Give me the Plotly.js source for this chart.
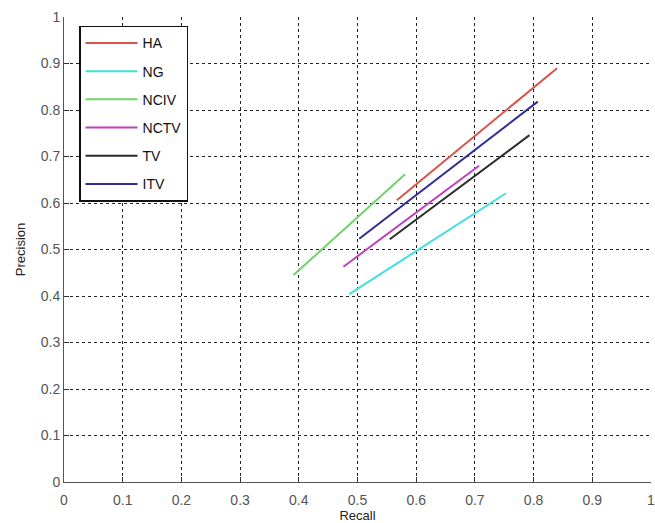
<!DOCTYPE html>
<html>
<head>
<meta charset="utf-8">
<script src="https://cdn.plot.ly/plotly-3.0.1.min.js"></script>
<style>html,body{margin:0;padding:0;background:#fff;}#chart{width:655px;height:523px;}</style>
</head>
<body>
<div id="chart"></div>
<script>
const seriesNames = ["HA", "NG", "NCIV", "NCTV", "TV", "ITV"];
const recallHA = [0.567, 0.840];
const precisionHA = [0.606, 0.890];
const recallNG = [0.486, 0.753];
const precisionNG = [0.404, 0.621];
const recallNCIV = [0.391, 0.581];
const precisionNCIV = [0.445, 0.662];
const recallNCTV = [0.476, 0.707];
const precisionNCTV = [0.463, 0.680];
const recallTV = [0.555, 0.793];
const precisionTV = [0.522, 0.746];
const recallITV = [0.503, 0.807];
const precisionITV = [0.523, 0.818];
const tickVals = [0, 0.1, 0.2, 0.3, 0.4, 0.5, 0.6, 0.7, 0.8, 0.9, 1];
const tickText = ["0", "0.1", "0.2", "0.3", "0.4", "0.5", "0.6", "0.7", "0.8", "0.9", "1"];

const xs = [recallHA, recallNG, recallNCIV, recallNCTV, recallTV, recallITV];
const ys = [precisionHA, precisionNG, precisionNCIV, precisionNCTV, precisionTV, precisionITV];
const colors = ["#d9534a", "#3fe0e0", "#6fd36a", "#c040c0", "#2b2b2b", "#2e2e96"];

const traces = seriesNames.map((n, i) => ({
  type: "scatter", mode: "lines", name: n,
  x: xs[i], y: ys[i], legendgroup: "g" + i,
  line: {color: colors[i], width: 2}
}));

const axisCommon = {
  range: [0, 1], tickvals: tickVals, ticktext: tickText,
  showgrid: true, gridcolor: "#222", griddash: "dot", gridwidth: 1,
  zeroline: false, showline: true, linecolor: "#555", linewidth: 1,
  ticks: "inside", ticklen: 5, tickcolor: "#333",
  tickfont: {family: "Liberation Sans, Arial, sans-serif", size: 14, color: "#555"},
  ticklabeloverflow: "allow",
  mirror: false, fixedrange: true
};

const layout = {
  width: 655, height: 523,
  margin: {l: 64, r: 4, t: 17, b: 41},
  paper_bgcolor: "#fff", plot_bgcolor: "#fff",
  font: {family: "Liberation Sans, Arial, sans-serif", size: 13, color: "#222"},
  showlegend: true,
  xaxis: Object.assign({}, axisCommon, {
    ticklabelstandoff: 5,
    title: {text: "Recall", standoff: 5, font: {size: 13, color: "#222"}}
  }),
  yaxis: Object.assign({}, axisCommon, {
    title: {text: "Precision", standoff: 12, font: {size: 13, color: "#222"}}
  }),
  legend: {
    x: 0.0256, y: 0.981, xanchor: "left", yanchor: "top",
    bgcolor: "#fff", bordercolor: "#111", borderwidth: 1.5,
    font: {family: "Liberation Sans, Arial, sans-serif", size: 14, color: "#111"},
    tracegroupgap: 7, traceorder: "grouped", itemwidth: 52, entrywidth: 66
  }
};

Plotly.newPlot("chart", traces, layout, {displayModeBar: false, staticPlot: true});
</script>
</body>
</html>
